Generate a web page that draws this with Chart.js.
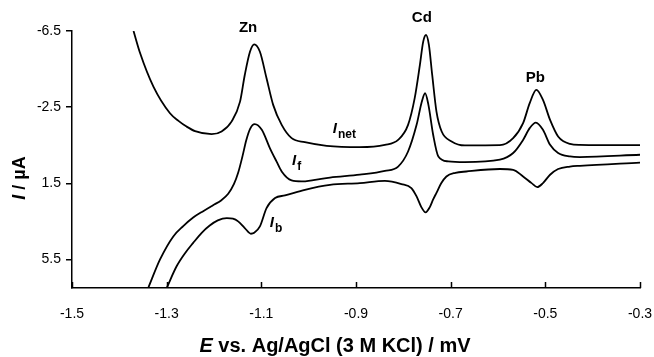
<!DOCTYPE html>
<html>
<head>
<meta charset="utf-8">
<script src="https://cdn.jsdelivr.net/npm/chart.js@4.4.1/dist/chart.umd.min.js"></script>
<style>
  html, body { margin: 0; padding: 0; background: #fff; }
  #wrap { width: 654px; height: 357px; }
</style>
</head>
<body>
<div id="wrap"><canvas id="grafico" width="654" height="357"></canvas></div>
<script>
// potenciais (V) e correntes (uA)
const netE = [-1.370, -1.356, -1.328, -1.293, -1.275, -1.258, -1.240, -1.205, -1.184, -1.163, -1.145, -1.135, -1.124, -1.115, -1.103, -1.089, -1.075, -1.057, -1.036, -1.008, -0.962, -0.892, -0.839, -0.811, -0.790, -0.776, -0.765, -0.758, -0.752, -0.746, -0.739, -0.730, -0.719, -0.698, -0.670, -0.596, -0.568, -0.547, -0.533, -0.519, -0.505, -0.490, -0.473, -0.448, -0.427, -0.300];
const netI = [-6.50, -5.33, -3.58, -2.18, -1.78, -1.48, -1.24, -1.08, -1.22, -1.74, -2.79, -4.19, -5.41, -5.80, -5.41, -4.02, -2.62, -1.57, -0.87, -0.66, -0.47, -0.40, -0.52, -0.78, -1.57, -2.97, -4.72, -5.94, -6.29, -5.77, -4.19, -2.27, -1.22, -0.70, -0.49, -0.50, -0.87, -1.66, -2.71, -3.41, -2.88, -1.83, -0.96, -0.57, -0.52, -0.50];

const fwdE = [-1.339, -1.314, -1.286, -1.265, -1.244, -1.222, -1.202, -1.185, -1.170, -1.158, -1.149, -1.140, -1.132, -1.124, -1.114, -1.099, -1.082, -1.068, -1.057, -1.036, -1.015, -0.990, -0.955, -0.892, -0.839, -0.811, -0.790, -0.772, -0.761, -0.754, -0.747, -0.737, -0.726, -0.705, -0.670, -0.596, -0.568, -0.547, -0.533, -0.520, -0.505, -0.490, -0.473, -0.448, -0.427, -0.300];
const fwdI = [7.00, 5.50, 4.29, 3.75, 3.30, 2.95, 2.65, 2.40, 2.05, 1.55, 0.95, 0.10, -0.75, -1.35, -1.61, -1.31, -0.35, 0.35, 0.88, 1.35, 1.40, 1.33, 1.20, 1.05, 0.85, 0.62, -0.17, -1.57, -2.79, -3.23, -2.62, -1.05, 0.09, 0.35, 0.39, 0.26, -0.09, -0.78, -1.40, -1.69, -1.31, -0.52, -0.09, 0.09, 0.12, 0.00];

const bwdE = [-1.300, -1.279, -1.262, -1.244, -1.226, -1.209, -1.192, -1.173, -1.160, -1.149, -1.135, -1.122, -1.115, -1.103, -1.089, -1.071, -1.050, -1.008, -0.955, -0.892, -0.839, -0.804, -0.783, -0.772, -0.762, -0.753, -0.744, -0.737, -0.730, -0.720, -0.709, -0.690, -0.667, -0.596, -0.568, -0.547, -0.529, -0.517, -0.505, -0.490, -0.473, -0.448, -0.427, -0.300];
const bwdI = [7.00, 5.86, 5.20, 4.63, 4.10, 3.72, 3.45, 3.33, 3.36, 3.50, 3.85, 4.15, 4.10, 3.76, 2.80, 2.27, 2.14, 1.84, 1.58, 1.49, 1.37, 1.54, 1.75, 2.19, 2.75, 3.03, 2.75, 2.35, 2.00, 1.50, 1.14, 0.95, 0.88, 0.75, 0.79, 1.14, 1.49, 1.70, 1.49, 1.05, 0.75, 0.62, 0.58, 0.41];

const xTicks = [-1.5, -1.3, -1.1, -0.9, -0.7, -0.5, -0.3];
const yTicks = [-6.5, -2.5, 1.5, 5.5];

// rotulos dos picos e das curvas (posicao em E, I)
const picos = [
  { texto: "Zn", E: -1.128, I: -6.66 },
  { texto: "Cd", E: -0.761, I: -7.18 },
  { texto: "Pb", E: -0.521, I: -4.04 }
];
const curvas = [
  { texto: "I", sub: "net", E: -0.949, I: -1.36 },
  { texto: "I", sub: "f", E: -1.035, I: 0.32 },
  { texto: "I", sub: "b", E: -1.082, I: 3.59 }
];

const fonte = "'Liberation Sans', Arial, Helvetica, sans-serif";

function pontos(es, is) {
  return es.map((e, i) => ({ x: e, y: is[i] }));
}

function serie(nome, es, is) {
  return {
    label: nome,
    data: pontos(es, is),
    borderColor: "#000",
    borderWidth: 1.8,
    pointRadius: 0,
    fill: false,
    cubicInterpolationMode: "monotone",
    showLine: true
  };
}

const textos = {
  id: "textos",
  afterDatasetsDraw(chart) {
    const ctx = chart.ctx;
    const sx = chart.scales.x;
    const sy = chart.scales.y;
    const area = chart.chartArea;
    ctx.save();
    ctx.fillStyle = "#000";
    ctx.strokeStyle = "#000";

    // marcas do eixo x voltadas para dentro
    ctx.lineWidth = 1.5;
    xTicks.forEach((v) => {
      const px = Math.round(sx.getPixelForValue(v)) + 0.5;
      ctx.beginPath();
      ctx.moveTo(px, area.bottom);
      ctx.lineTo(px, area.bottom - 6);
      ctx.stroke();
    });

    ctx.textAlign = "center";
    ctx.textBaseline = "middle";
    ctx.font = "bold 15px " + fonte;
    picos.forEach((p) => {
      ctx.fillText(p.texto, sx.getPixelForValue(p.E), sy.getPixelForValue(p.I));
    });

    ctx.textAlign = "left";
    curvas.forEach((c) => {
      const px = sx.getPixelForValue(c.E);
      const py = sy.getPixelForValue(c.I);
      ctx.font = "italic bold 15px " + fonte;
      ctx.fillText(c.texto, px, py);
      const w = ctx.measureText(c.texto).width;
      ctx.font = "bold 12px " + fonte;
      ctx.fillText(c.sub, px + w + 1, py + 6);
    });

    // titulo do eixo x
    const partes = [["italic bold 20px ", "E"], ["bold 20px ", " vs. Ag/AgCl (3 M KCl) / mV"]];
    let total = 0;
    partes.forEach((p) => { ctx.font = p[0] + fonte; total += ctx.measureText(p[1]).width; });
    let x0 = 335 - total / 2;
    partes.forEach((p) => {
      ctx.font = p[0] + fonte;
      ctx.fillText(p[1], x0, 346);
      x0 += ctx.measureText(p[1]).width;
    });

    // titulo do eixo y
    ctx.translate(20, 178);
    ctx.rotate(-Math.PI / 2);
    const partesY = [["italic bold 18px ", "I"], ["bold 18px ", " / \u00b5A"]];
    total = 0;
    partesY.forEach((p) => { ctx.font = p[0] + fonte; total += ctx.measureText(p[1]).width; });
    x0 = -total / 2;
    partesY.forEach((p) => {
      ctx.font = p[0] + fonte;
      ctx.fillText(p[1], x0, 0);
      x0 += ctx.measureText(p[1]).width;
    });
    ctx.restore();
  }
};

const ctx = document.getElementById("grafico");
new Chart(ctx, {
  type: "scatter",
  data: {
    datasets: [
      serie("Inet", netE, netI),
      serie("If", fwdE, fwdI),
      serie("Ib", bwdE, bwdI)
    ]
  },
  options: {
    responsive: false,
    animation: false,
    layout: { autoPadding: false, padding: { left: 0, top: 31, right: 14, bottom: 0 } },
    plugins: { legend: { display: false }, tooltip: { enabled: false } },
    scales: {
      x: {
        type: "linear",
        min: -1.5,
        max: -0.3,
        afterBuildTicks: (s) => { s.ticks = xTicks.map((v) => ({ value: v })); },
        afterFit: (s) => { s.height = 69; s.paddingLeft = 0; s.paddingRight = 0; },
        grid: { drawOnChartArea: false, drawTicks: false },
        border: { display: true, color: "#000", width: 1.5 },
        ticks: {
          color: "#000",
          padding: 18,
          maxRotation: 0,
          font: { family: fonte, size: 14 },
          callback: (v) => Number(v).toFixed(1)
        }
      },
      y: {
        type: "linear",
        reverse: true,
        min: -6.5,
        max: 7.0,
        afterBuildTicks: (s) => { s.ticks = yTicks.map((v) => ({ value: v })); },
        afterFit: (s) => { s.width = 72; s.paddingTop = 0; s.paddingBottom = 0; },
        grid: { drawOnChartArea: false, drawTicks: true, tickLength: 6, color: "#000", lineWidth: 1.5 },
        border: { display: true, color: "#000", width: 1.5 },
        ticks: {
          color: "#000",
          padding: 5,
          font: { family: fonte, size: 14 },
          callback: (v) => Number(v).toFixed(1)
        }
      }
    }
  },
  plugins: [textos]
});
</script>
</body>
</html>
